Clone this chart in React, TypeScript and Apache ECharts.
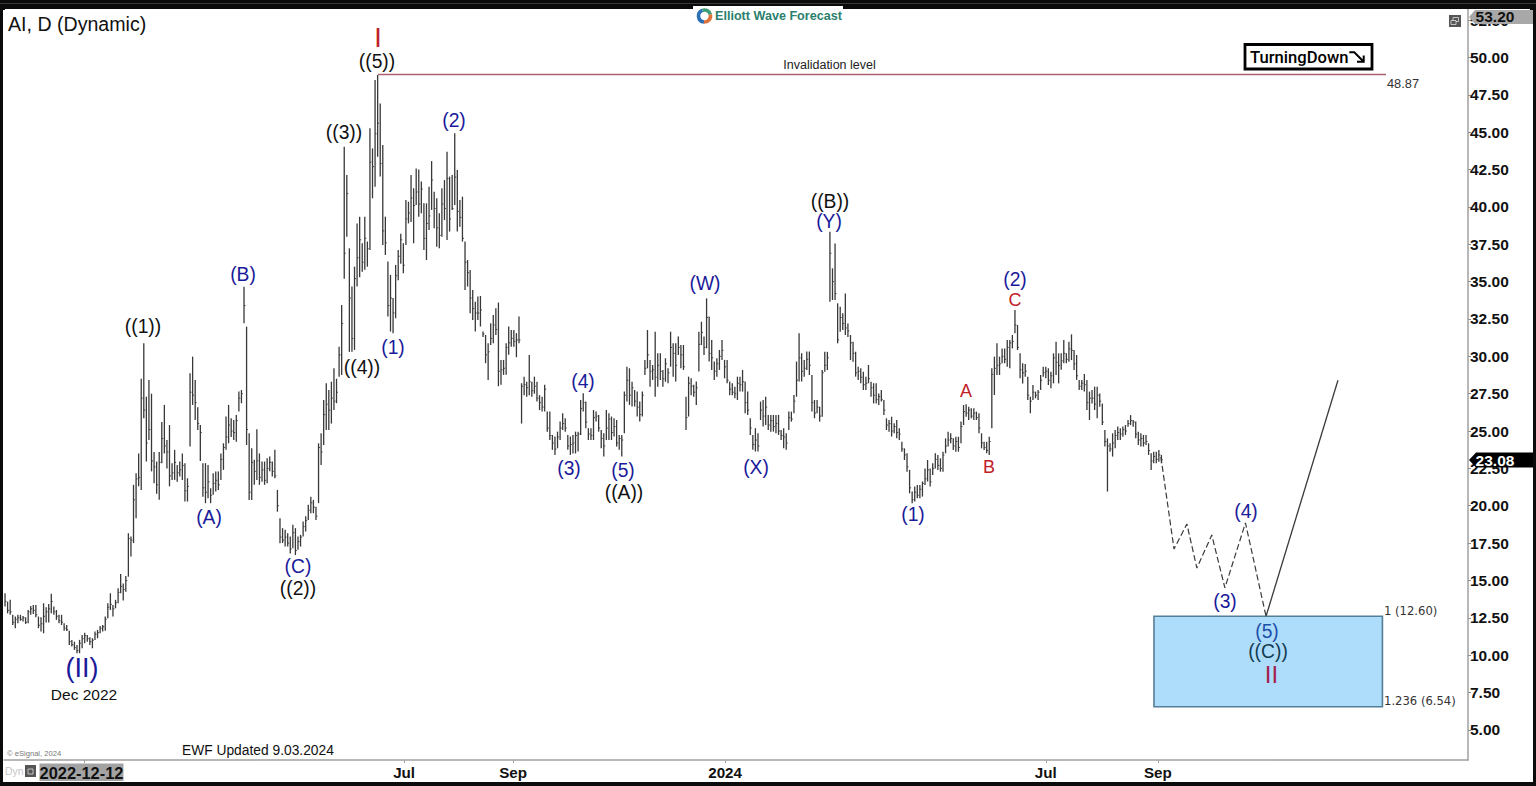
import React, { useEffect, useRef } from "react";
import * as echarts from "echarts";

// Daily bars: [high, low, close]
type Bar = [number, number, number];

const decemberBase: Bar[] = [
  [14.14,13.25,13.6],[13.58,12.8,13.0],[13.7,12.7,12.9],[12.7,12.02,12.2],[12.58,11.8,12.4],[12.7,12.13,12.5],[12.7,12.3,12.4],[12.62,12.25,12.5],
  [12.53,12.09,12.2],[13.02,12.13,12.9],[13.29,12.7,13.1],[13.36,12.76,13.0],[13.36,12.53,12.7],[12.58,11.8,12.0],[12.53,11.58,12.1],[13.47,11.46,12.6],
  [13.2,12.18,12.9],[13.43,12.18,13.1],[14.1,12.8,13.6],[13.25,12.7,12.9],[13.02,12.36,12.6],[12.7,12.13,12.3],[12.7,12.02,12.2],[12.13,11.64,11.8],
  [12.02,11.62,11.7],[11.64,10.68,10.9],[11.02,10.57,10.7],[10.9,10.35,10.5],[10.68,10.13,10.3],[11.02,10.13,10.8],[11.35,10.46,11.1],[11.5,10.8,11.3],
  [11.35,10.9,11.1],[11.2,10.68,10.9],[11.13,10.46,11.0],[11.58,11.02,11.4],[11.69,11.13,11.5],[11.95,11.46,11.8],[12.02,11.58,11.9],[12.58,11.64,12.4],
  [13.47,12.47,13.2],[14.14,13.02,13.4],[13.36,12.58,13.1],[13.7,13.14,13.5],[14.47,13.47,14.2],[15.43,14.14,14.6],[14.8,13.65,14.4],[15.3,14.25,15.0],
];

const firstRally: Bar[] = [
  [18.16,15.25,17.8],[17.94,16.6,17.7],[21.4,17.5,20.4],[22.18,19.17,21.8],[23.5,21.3,21.9],[28.5,21.06,27.2],[30.87,25.85,26.4],[27.3,22.96,24.2],
  [28.42,24.4,25.1],[27.5,22.3,23.0],[23.6,21.5,22.6],[22.96,20.8,21.4],[23.6,20.4,22.9],[25.6,22.85,24.5],[26.75,23.5,24.0],[24.4,22.5,23.6],
  [25.4,21.3,22.0],[22.85,21.73,22.2],[23.74,21.73,22.9],[22.73,21.6,22.2],[22.96,21.95,22.4],[23.5,21.73,22.7],[22.85,20.28,21.0],[21.84,20.28,21.3],
  [28.87,23.96,27.6],[29.98,26.75,27.4],[28.42,25.74,26.9],[26.6,25.07,25.5],[25.4,23.0,24.9],[22.85,20.6,21.2],[22.85,20.17,20.9],[22.73,20.5,21.6],
  [21.17,20.17,20.7],[22.18,20.73,21.5],[22.29,20.95,21.7],[22.29,21.06,21.4],[23.5,21.73,23.1],[24.18,22.4,23.9],[25.97,23.74,24.6],[26.75,24.18,25.4],
  [25.85,24.6,25.0],[25.74,24.4,24.9],[26.08,24.29,25.7],[27.64,26.3,27.2],[27.75,26.86,27.5],[34.66,32.21,33.4],[31.99,24.07,25.1],[24.85,20.39,20.9],
  [23.85,20.39,22.9],[23.07,21.4,22.3],[25.12,21.73,23.0],[23.5,21.4,21.9],[22.96,21.6,22.4],[22.96,21.4,21.7],[23.18,21.51,22.5],[23.3,22.3,22.9],
  [22.96,21.95,22.3],[23.74,21.84,22.0],[21.06,19.6,20.0],[19.17,17.49,17.9],[18.5,17.5,17.7],[18.4,17.27,17.9],[18.16,17.27,17.5],[17.94,16.8,17.1],
  [18.72,17.16,18.2],[18.5,16.7,17.0],[17.94,17.05,17.6],[18.05,17.27,17.9],[18.94,17.94,18.6],[19.3,18.27,19.0],[20.06,19.05,19.7],[20.6,19.5,20.2],
  [20.39,19.5,19.9],[19.94,19.05,19.3],[24.18,20.17,23.9],[24.85,22.73,23.6],[27.08,24.07,26.1],[28.2,25.07,26.8],[27.75,25.07,26.4],[28.3,25.5,27.2],
  [29.2,26.4,27.0],[28.5,26.86,27.6],[30.65,28.64,30.1],[33.44,28.75,32.2],
];

const peakAndPullback: Bar[] = [
  [44.03,35.2,36.9],[42.14,38.0,40.9],[37.23,30.3,33.9],[34.67,30.3,31.2],[36.0,30.43,35.2],[38.9,34.67,36.6],[39.35,35.3,37.8],[37.57,35.67,36.3],
  [39.35,35.8,37.9],[37.68,36.0,37.2],[45.26,37.12,43.0],[43.92,40.58,42.7],[48.49,41.36,44.9],[48.83,43.36,45.6],[46.93,42.03,42.9],[44.14,37.45,38.4],
  [39.35,36.79,37.6],[36.34,32.66,33.4],[35.45,31.66,33.9],[33.9,31.54,32.9],[36.12,32.55,35.4],[37.12,35.1,36.7],[38.2,36.2,37.8],[37.57,35.56,36.1],
  [40.47,37.45,39.2],[40.35,38.9,39.6],[42.14,39.0,40.6],[41.25,37.57,40.1],[42.58,40.13,41.0],[42.5,39.35,40.2],[41.7,39.57,41.2],[40.24,37.12,37.9],
  [40.24,36.45,38.9],[41.36,38.46,39.4],[43.07,39.8,41.8],[41.02,38.57,39.9],[40.58,37.34,38.6],[39.57,37.23,38.1],[41.25,38.0,40.2],[41.8,39.13,39.9],
  [43.7,37.79,41.9],[42.03,38.35,39.2],[42.14,39.8,39.9],[44.93,40.13,42.0],[42.47,38.35,39.7],[40.47,38.68,39.3],[40.69,37.68,37.9],[37.68,34.44,36.3],
  [36.45,34.67,35.6],[35.78,32.88,33.9],[34.44,32.44,33.2],[33.66,31.66,32.9],[34.0,32.44,32.9],[34.04,32.0,33.1],[31.66,31.3,31.5],[31.43,29.54,30.1],
  [30.88,28.42,30.3],[32.21,30.76,31.2],[32.77,30.88,32.1],[33.22,31.43,31.8],[33.6,28.0,29.0],[29.76,28.09,29.1],[29.76,28.76,29.2],[30.88,28.76,30.6],
  [32.0,30.1,30.9],[31.77,30.65,31.2],[31.77,30.65,31.0],[31.55,29.94,31.1],[32.66,30.88,31.1],
];

const middleRange: Bar[] = [
  [28.2,25.5,28.0],[28.64,27.4,28.1],[28.3,27.3,27.9],[30.09,27.4,28.3],[28.3,27.3,27.7],[28.64,27.5,28.0],[28.3,26.97,27.2],[27.4,26.4,26.9],
  [27.3,26.3,26.6],[28.1,26.3,27.8],[26.3,24.96,25.2],[26.3,24.4,24.7],[24.74,23.74,24.2],[24.63,23.4,23.8],[24.96,23.85,24.6],[25.63,24.4,25.2],
  [26.19,25.07,25.5],[25.85,24.96,25.2],[24.74,23.74,24.0],[24.63,23.4,24.1],[24.74,23.5,24.2],[24.96,23.5,24.7],[24.96,23.63,24.8],[27.08,24.74,26.5],
  [27.53,26.3,26.9],[26.97,25.19,25.6],[25.19,24.4,24.8],[25.19,24.4,24.7],[26.41,24.4,25.9],[26.3,25.63,26.0],[26.08,24.96,25.2],[25.07,23.85,24.5],
  [24.85,23.29,24.0],[26.41,24.4,25.2],[26.19,24.4,25.8],[25.97,24.4,24.9],[25.85,24.63,25.3],[25.74,23.96,24.2],[24.74,23.74,24.5],[24.74,23.29,24.4],
  [27.64,24.85,27.4],[29.31,26.97,28.4],[29.2,26.75,27.4],[28.3,26.64,27.9],[27.75,26.64,27.0],[27.64,25.97,26.6],[26.97,25.63,26.1],[27.64,25.97,27.4],
  [29.76,28.75,29.2],[31.76,29.2,30.1],[29.76,27.97,29.0],[29.42,28.42,29.1],[31.65,27.3,28.6],[30.2,27.97,29.4],[30.2,28.42,29.0],[29.09,27.97,28.5],
  [29.87,28.3,29.5],[29.2,28.2,28.9],[31.65,29.31,30.6],[30.87,28.64,30.2],[30.87,28.31,29.4],[31.32,30.09,30.6],[30.76,29.2,30.1],[30.76,29.09,29.3],
  [27.3,25.07,25.9],[28.64,25.97,28.2],[28.53,27.4,28.0],[28.1,27.3,27.6],[28.31,26.75,27.9],[31.65,28.98,30.8],[32.32,30.76,31.6],[31.32,30.09,30.6],
  [33.88,30.54,32.6],[32.66,29.65,30.2],[31.1,29.09,29.9],[29.65,28.42,29.0],[29.87,28.64,29.5],[30.43,29.09,30.0],[31.1,29.76,30.4],[29.76,28.53,29.3],
  [29.76,28.2,28.4],[28.31,27.4,27.8],[28.2,27.4,27.6],[27.97,27.2,27.5],[28.64,27.08,28.2],[28.64,27.64,28.1],[29.09,27.64,28.3],[28.31,26.19,26.9],
  [27.64,26.08,26.4],[25.85,24.74,25.2],[24.74,23.74,24.1],[25.19,23.63,24.4],[24.85,23.63,24.0],[26.97,25.74,26.4],[27.08,25.3,26.0],[27.3,25.41,26.6],
  [26.08,25.07,25.4],[26.08,24.96,25.7],[26.08,24.96,25.3],[26.08,24.85,25.5],[26.08,24.74,25.0],[25.07,24.4,24.7],[25.19,23.85,24.6],[24.85,23.74,24.2],
  [26.3,25.07,25.9],[26.3,25.63,25.8],[27.42,26.19,27.0],[29.65,27.3,28.4],[31.54,28.31,29.9],[30.2,28.31,29.0],[29.76,28.64,29.2],[30.32,29.09,29.8],
  [30.32,28.75,29.4],[28.75,26.3,26.9],[27.08,25.86,26.2],[27.08,26.19,26.6],[26.63,25.63,26.0],
];

const latestSwing: Bar[] = [
  [29.08,25.96,28.9],[30.3,28.97,29.4],[30.3,29.08,29.9],[38.34,33.66,36.9],[35.89,33.77,35.0],[37.56,33.77,34.2],[33.55,30.87,31.1],[33.32,31.65,32.6],
  [32.88,31.76,32.2],[34.2,31.43,31.9],[32.2,31.3,31.7],[31.43,29.75,30.9],[30.98,29.64,30.2],[30.31,28.64,28.9],[29.3,28.42,29.0],[29.2,28.2,28.6],
  [28.97,27.75,28.1],[28.64,27.75,28.2],[29.42,28.2,28.5],[28.3,27.3,27.9],[28.2,26.85,27.4],[28.2,26.85,27.1],[27.52,26.74,27.3],[27.75,26.97,27.1],
  [27.08,26.07,26.4],[25.85,25.07,25.4],[25.74,24.96,25.5],[25.96,24.63,25.0],[25.52,24.85,25.3],[25.74,24.51,24.9],[25.18,24.4,24.8],[24.29,23.62,23.8],
  [23.84,23.06,23.4],[23.51,22.28,22.6],[22.4,20.83,21.2],[20.95,20.16,20.4],[21.28,20.28,20.9],[21.39,20.5,20.7],[21.39,20.5,21.1],[21.62,20.61,21.5],
  [22.5,21.39,21.8],[23.06,21.62,22.4],[22.5,21.28,21.6],[22.84,22.06,22.5],[23.51,22.5,23.1],[23.4,22.4,22.7],[23.17,22.28,22.5],[23.62,22.28,23.4],
  [24.51,23.51,24.0],[24.96,23.96,24.4],[24.85,24.18,24.5],[24.51,23.73,24.0],[24.62,23.62,24.3],[24.62,23.62,23.9],[25.63,24.18,25.3],[26.74,25.4,26.3],
  [26.79,25.96,26.2],[26.63,25.74,26.4],[26.52,25.85,26.0],[26.52,25.74,26.2],[26.3,25.74,25.9],[26.19,24.85,25.2],[24.85,23.84,24.2],[24.29,23.73,23.9],
  [24.29,23.51,23.7],[24.62,23.4,24.3],[29.2,25.18,28.8],[29.98,27.41,29.2],[30.87,28.75,29.4],[29.98,28.75,29.5],[30.53,29.53,30.0],[30.53,29.53,29.8],
  [31.09,29.31,30.6],[31.09,29.2,30.9],[31.43,30.53,31.0],[33.1,31.54,32.1],[32.1,30.42,30.6],[30.2,28.53,29.1],[29.53,28.19,28.9],[29.49,28.64,29.0],
  [28.64,27.08,27.4],[27.3,26.19,27.0],[28.08,27.08,27.6],[27.64,27.19,27.4],[27.75,27.08,27.6],[28.75,27.75,28.4],[29.31,28.64,28.9],[29.31,28.53,29.0],
  [29.2,28.08,28.4],[28.97,27.86,28.7],[30.2,28.19,29.9],[30.98,28.75,29.6],[30.2,28.19,29.4],[30.2,29.1,29.7],[31.09,29.53,30.2],[30.2,29.53,29.8],
  [30.98,29.64,30.5],[31.47,29.75,30.4],[30.42,29.08,29.5],[30.09,28.42,28.7],[28.42,27.75,28.0],[28.42,27.75,28.2],[28.82,27.64,28.1],[28.42,26.41,26.9],
  [27.64,25.74,27.2],[27.75,26.85,27.2],[27.97,26.41,26.8],[27.97,25.85,27.4],[27.52,26.63,27.0],[26.85,25.4,25.6],[25.07,23.96,24.3],[24.51,20.95,24.0],
  [24.18,23.62,23.8],[24.85,23.29,24.2],[25.07,23.84,24.7],[25.3,24.4,24.9],[25.18,24.4,24.8],[25.3,24.62,25.1],[25.4,24.74,25.0],[25.74,25.29,25.5],
  [26.07,25.4,25.7],[25.74,25.29,25.6],[25.63,24.51,24.8],[24.96,24.07,24.4],[24.85,23.96,24.5],[24.74,23.96,24.2],[24.74,24.07,24.3],[24.18,23.4,23.7],
  [23.51,22.4,23.0],[23.62,22.84,23.3],[23.62,22.84,23.1],[23.73,22.95,23.4],[23.4,22.84,23.08],
];

const legStarts = [0, 48, 132, 201, 318];
const barLegs = [decemberBase, firstRally, peakAndPullback, middleRange, latestSwing];

// Projected path, in bar index and price
const projectionDashed = [[449.8,23.26],[454.9,17.1],[459.9,18.78],[463.8,15.83],[469.6,18.04],[474.7,14.5],[482.7,18.85],[490.7,12.6]];
const projectionSolid = [[490.7,12.6],[518.7,28.4]];
const invalidationLine = [[145.1,48.87],[537.4,48.87]];
const targetBox = { fromBar: 447.1, toBar: 536, top: 12.6, bottom: 6.54 };

const priceTicks = [5,7.5,10,12.5,15,17.5,20,22.5,25,27.5,30,32.5,35,37.5,40,42.5,45,47.5,50,52.5];
const timeTickBars = [30.7,155.3,197.7,280.2,405,448.6];
const timeTickNames = ["2022-12-12","Jul","Sep","2024","Jul","Sep"];

const BLACK = "#111111";
const BLUE = "#1a1a9a";
const RED = "#c02028";
const waveLabels: [string, number, number, string][] = [
  ["((5))",377,61,BLACK],["((3))",344,132,BLACK],["((1))",143,326,BLACK],["(B)",243,274,BLUE],["(A)",209,517,BLUE],
  ["(C)",298,566,BLUE],["((2))",298,588,BLACK],["((4))",362,367,BLACK],["(1)",393,347,BLUE],["(2)",454,120,BLUE],
  ["(3)",569,468,BLUE],["(4)",583,381,BLUE],["(5)",623,470,BLUE],["((A))",624,492,BLACK],["(W)",705,283,BLUE],
  ["(X)",756,467,BLUE],["((B))",830,201,BLACK],["(Y)",829,221,BLUE],["(1)",913,514,BLUE],["A",966,391,RED],
  ["B",989,467,RED],["C",1015,300,RED],["(2)",1015,279,BLUE],["(3)",1225,601,BLUE],["(4)",1246,511,BLUE],
  ["(5)",1267,631,"#1c4fa8"],["((C))",1268,651.5,"#123c52"],
];

const SANS = "Liberation Sans";

function text(t: string, x: number, y: number, size: number, fill: string, opts: any = {}) {
  return {
    type: "text", x, y, z: 120, silent: true,
    style: {
      text: t, fill, fontFamily: opts.family || SANS, fontSize: size, fontWeight: opts.weight || "normal",
      align: opts.align || "center", verticalAlign: "middle",
    },
  };
}
const rect = (x: number, y: number, width: number, height: number, fill: string, z = 110) => ({
  type: "rect", z, silent: true, shape: { x, y, width, height }, style: { fill },
});
const arc = (start: number, end: number, color: string) => ({
  type: "arc", z: 120, silent: true,
  shape: { cx: 704.5, cy: 16, r: 6, startAngle: (start * Math.PI) / 180, endAngle: (end * Math.PI) / 180 },
  style: { stroke: color, lineWidth: 3.6, fill: "none" },
});

export default function App() {
  const ref = useRef<HTMLDivElement>(null);
  useEffect(() => {
    document.body.style.margin = "0";
    const chart = echarts.init(ref.current!, undefined, { renderer: "svg" });
    const bars: number[][] = [];
    barLegs.forEach((leg, k) => leg.forEach((b, n) => bars.push([legStarts[k] + n, b[0], b[1], b[2]])));

    const graphic: any[] = [
      // frame
      rect(0, 0, 1536, 9, "#0b0b0b"), rect(0, 3, 1536, 1, "#3a3a3a", 111),
      rect(0, 0, 3, 786, "#0b0b0b"), rect(1533, 0, 3, 786, "#0b0b0b"), rect(0, 782, 1536, 4, "#0b0b0b"),
      rect(3, 9, 2, 1, "#0b0b0b"), rect(1530, 9, 3, 1, "#0b0b0b"),
      rect(693, 6, 150, 4, "#ffffff", 112),
      // brand
      arc(95, 250, "#2b6fb5"), arc(250, 345, "#3f9d78"), arc(345, 455, "#e0703a"),
      text("Elliott Wave Forecast", 715, 16, 12.6, "#2b7f6e", { align: "left", weight: "bold" }),
      // heading and notes
      text("AI, D (Dynamic)", 8, 24, 19.6, "#111111", { align: "left" }),
      text("© eSignal, 2024", 7, 753, 7.6, "#777777", { align: "left" }),
      text("EWF Updated 9.03.2024", 182, 750.5, 13.8, "#111111", { align: "left" }),
      text("Dec 2022", 84, 694.5, 15.5, "#111111"),
      text("(II)", 82, 668, 27, BLUE),
      text("I", 378, 38, 27, RED),
      text("II", 1271.5, 674, 24, "#a4204f"),
      text("Invalidation level", 829.5, 65, 12.5, "#222222"),
      text("48.87", 1387, 83, 12.8, "#333333", { align: "left" }),
      text("1 (12.60)", 1384, 610.5, 11.6, "#333333", { align: "left", family: "DejaVu Sans" }),
      text("1.236 (6.54)", 1384, 701, 11.6, "#333333", { align: "left", family: "DejaVu Sans" }),
      // Turning Down badge
      { type: "rect", z: 115, silent: true, shape: { x: 1245, y: 44.5, width: 127, height: 24.5 }, style: { fill: "#fff", stroke: "#000", lineWidth: 2.8 } },
      text("TurningDown", 1250, 57, 16.6, "#000000", { align: "left", family: "Roboto", weight: 500 }),
      { type: "polyline", z: 120, silent: true, shape: { points: [[1349.3,52.3],[1354.3,52.3],[1363.7,61.7]] }, style: { stroke: "#000", lineWidth: 2, fill: "none" } },
      { type: "polyline", z: 120, silent: true, shape: { points: [[1363.7,55.5],[1363.7,61.7],[1357,61.7]] }, style: { stroke: "#000", lineWidth: 2, fill: "none" } },
      // window icon
      rect(1449, 15, 12, 12, "#555555"),
      { type: "rect", z: 116, silent: true, shape: { x: 1453, y: 17.5, width: 5.5, height: 4 }, style: { fill: "none", stroke: "#ddd", lineWidth: 0.8 } },
      { type: "rect", z: 117, silent: true, shape: { x: 1451, y: 20.5, width: 5, height: 4 }, style: { fill: "#555", stroke: "#ddd", lineWidth: 0.8 } },
      // price tags
      { type: "polygon", z: 115, silent: true, shape: { points: [[1469,17],[1475,10],[1533,10],[1533,24],[1475,24]] }, style: { fill: "#a8a8a8" } },
      text("53.20", 1495, 16.5, 15.5, "#111111", { weight: "bold" }),
      { type: "polygon", z: 115, silent: true, shape: { points: [[1469,460],[1476,452.5],[1533,452.5],[1533,467.5],[1476,467.5]] }, style: { fill: "#000000" } },
      text("23.08", 1495, 460.5, 15.5, "#ffffff", { weight: "bold" }),
      // footer controls
      text("Dyn", 5, 771, 10.5, "#c8c8c8", { align: "left" }),
      rect(25, 765, 11, 12, "#555555"),
      { type: "rect", z: 116, silent: true, shape: { x: 28, y: 769, width: 5, height: 5 }, style: { fill: "none", stroke: "#ddd", lineWidth: 0.8 } },
      rect(39.5, 763.5, 84, 17.5, "#a3a3a3"),
      text(timeTickNames[0], 81.5, 772.5, 16.4, "#111111", { weight: "bold" }),
      ...waveLabels.map(([t, x, y, c]) => text(t, x, y, t.startsWith("(") ? 19.3 : 18, c)),
    ];

    chart.setOption({
      animation: false,
      backgroundColor: "#ffffff",
      tooltip: { show: false },
      grid: { left: 4, top: 9, width: 1464, height: 751, containLabel: false },
      xAxis: {
        type: "value", min: -0.4, max: 569.3, splitLine: { show: false },
        axisLine: { show: true, onZero: false, lineStyle: { color: "#a0a0a0", width: 1.5 } },
        axisTick: { show: true, length: 3, lineStyle: { color: "#a0a0a0" }, customValues: timeTickBars },
        axisLabel: {
          show: true, margin: 5, fontFamily: SANS, fontSize: 15.2, fontWeight: "bold", color: "#111",
          customValues: timeTickBars.slice(1),
          formatter: (v: number) => timeTickNames[timeTickBars.indexOf(v)] ?? "",
        },
      },
      yAxis: {
        type: "value", position: "right", min: 2.98, max: 53.25, splitLine: { show: false },
        axisLine: { show: true, onZero: false, lineStyle: { color: "#a0a0a0", width: 1.5 } },
        axisTick: { show: true, length: 3, lineStyle: { color: "#909090" }, customValues: priceTicks },
        axisLabel: {
          show: true, margin: 2, fontFamily: SANS, fontSize: 15.5, fontWeight: "bold", color: "#111",
          customValues: priceTicks, formatter: (v: number) => v.toFixed(2),
        },
      },
      graphic,
      series: [
        {
          type: "line", data: invalidationLine, symbol: "none", silent: true, z: 3,
          lineStyle: { color: "#ad6270", width: 1.5 },
          markArea: {
            silent: true,
            itemStyle: { color: "#aedcfb", borderColor: "#557f96", borderWidth: 1.6 },
            data: [[{ coord: [targetBox.fromBar, targetBox.top] }, { coord: [targetBox.toBar, targetBox.bottom] }]],
          },
        },
        {
          type: "custom", data: bars, silent: true, z: 4, clip: false, encode: { x: 0, y: [1, 2, 3] },
          renderItem: (_: any, api: any) => {
            const i = api.value(0);
            const hi = api.coord([i, api.value(1)]);
            const lo = api.coord([i, api.value(2)]);
            const cl = api.coord([i, api.value(3)]);
            const stroke = "#383838";
            return {
              type: "group",
              children: [
                { type: "line", shape: { x1: hi[0], y1: hi[1], x2: lo[0], y2: lo[1] }, style: { stroke, lineWidth: 1.3 } },
                { type: "line", shape: { x1: cl[0], y1: cl[1], x2: cl[0] + 1.5, y2: cl[1] }, style: { stroke, lineWidth: 0.9 } },
              ],
            };
          },
        },
        { type: "line", data: projectionDashed, symbol: "none", silent: true, z: 5, lineStyle: { color: "#3a3a3a", width: 1.2, type: [6, 3] } },
        { type: "line", data: projectionSolid, symbol: "none", silent: true, z: 5, lineStyle: { color: "#3a3a3a", width: 1.3 } },
      ],
    });
    return () => chart.dispose();
  }, []);
  return <div ref={ref} style={{ width: 1536, height: 786 }} />;
}
